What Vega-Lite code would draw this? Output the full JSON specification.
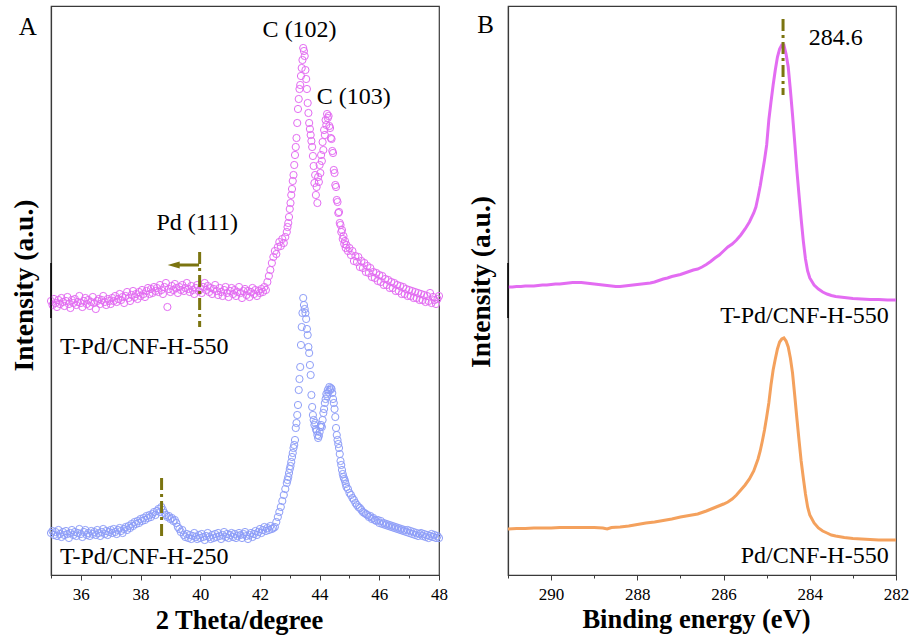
{
"$schema": "https://vega.github.io/schema/vega-lite/v6.json",
"padding": {"left": 9, "top": 5, "right": 0, "bottom": 0},
"background": "white",
"spacing": 69,
"bounds": "flush",
"config": {
 "font": "Liberation Serif, Times New Roman, serif",
 "view": {"stroke": "#3a3a3a", "strokeWidth": 1.2},
 "axis": {"domainColor": "#3a3a3a", "domainWidth": 1.2, "tickColor": "#3a3a3a", "labelFont": "Liberation Serif, Times New Roman, serif", "labelFontSize": 17, "labelColor": "#000", "titleFont": "Liberation Serif, Times New Roman, serif", "titleFontSize": 26.5, "titleFontWeight": "bold", "titleColor": "#000", "grid": false},
 "text": {"font": "Liberation Serif, Times New Roman, serif", "fontSize": 24, "color": "#000"}
},
"datasets": {
 "m550": [
{"x":35,"y":274},{"x":35.05,"y":270},{"x":35.1,"y":276},{"x":35.15,"y":272},{"x":35.2,"y":268},{"x":35.25,"y":275},{"x":35.3,"y":271},{"x":35.35,"y":277},{"x":35.4,"y":273},{"x":35.45,"y":269},{"x":35.5,"y":274},{"x":35.55,"y":278},{"x":35.6,"y":271},{"x":35.65,"y":267},{"x":35.7,"y":275},{"x":35.75,"y":272},{"x":35.8,"y":276},{"x":35.85,"y":270},{"x":35.9,"y":273},{"x":35.95,"y":279},
{"x":36,"y":272},{"x":36.05,"y":268},{"x":36.1,"y":274},{"x":36.15,"y":277},{"x":36.2,"y":271},{"x":36.25,"y":275},{"x":36.3,"y":269},{"x":36.35,"y":273},{"x":36.4,"y":278},{"x":36.45,"y":272},{"x":36.5,"y":266},{"x":36.55,"y":274},{"x":36.6,"y":276},{"x":36.65,"y":271},{"x":36.7,"y":275},{"x":36.75,"y":279},{"x":36.8,"y":273},{"x":36.85,"y":270},{"x":36.9,"y":276},{"x":36.95,"y":274},
{"x":37,"y":271},{"x":37.05,"y":277},{"x":37.1,"y":274},{"x":37.15,"y":279},{"x":37.2,"y":273},{"x":37.25,"y":276},{"x":37.3,"y":281},{"x":37.35,"y":275},{"x":37.4,"y":278},{"x":37.45,"y":272},{"x":37.5,"y":279},{"x":37.55,"y":283},{"x":37.6,"y":277},{"x":37.65,"y":274},{"x":37.7,"y":280},{"x":37.75,"y":284},{"x":37.8,"y":278},{"x":37.85,"y":281},{"x":37.9,"y":276},{"x":37.95,"y":283},
{"x":38,"y":279},{"x":38.05,"y":285},{"x":38.1,"y":281},{"x":38.15,"y":278},{"x":38.2,"y":284},{"x":38.25,"y":287},{"x":38.3,"y":281},{"x":38.35,"y":286},{"x":38.4,"y":282},{"x":38.45,"y":288},{"x":38.5,"y":284},{"x":38.55,"y":287},{"x":38.6,"y":283},{"x":38.65,"y":290},{"x":38.7,"y":285},{"x":38.75,"y":281},{"x":38.8,"y":288},{"x":38.85,"y":292},{"x":38.9,"y":268},{"x":38.95,"y":286},
{"x":39,"y":283},{"x":39.05,"y":289},{"x":39.1,"y":285},{"x":39.15,"y":291},{"x":39.2,"y":287},{"x":39.25,"y":282},{"x":39.3,"y":288},{"x":39.35,"y":285},{"x":39.4,"y":290},{"x":39.45,"y":284},{"x":39.5,"y":287},{"x":39.55,"y":292},{"x":39.6,"y":286},{"x":39.65,"y":283},{"x":39.7,"y":289},{"x":39.75,"y":285},{"x":39.8,"y":281},{"x":39.85,"y":287},{"x":39.9,"y":290},{"x":39.95,"y":284},
{"x":40,"y":286},{"x":40.05,"y":282},{"x":40.1,"y":288},{"x":40.15,"y":292},{"x":40.2,"y":285},{"x":40.25,"y":289},{"x":40.3,"y":283},{"x":40.35,"y":287},{"x":40.4,"y":281},{"x":40.45,"y":286},{"x":40.5,"y":290},{"x":40.55,"y":284},{"x":40.6,"y":280},{"x":40.65,"y":287},{"x":40.7,"y":283},{"x":40.75,"y":279},{"x":40.8,"y":285},{"x":40.85,"y":288},{"x":40.9,"y":282},{"x":40.95,"y":278},
{"x":41,"y":284},{"x":41.05,"y":287},{"x":41.1,"y":281},{"x":41.15,"y":285},{"x":41.2,"y":279},{"x":41.25,"y":283},{"x":41.3,"y":288},{"x":41.35,"y":282},{"x":41.4,"y":277},{"x":41.45,"y":284},{"x":41.5,"y":286},{"x":41.55,"y":280},{"x":41.6,"y":284},{"x":41.65,"y":278},{"x":41.7,"y":283},{"x":41.75,"y":287},{"x":41.8,"y":281},{"x":41.85,"y":285},{"x":41.9,"y":279},{"x":41.95,"y":284},
{"x":42,"y":282},{"x":42.05,"y":286},{"x":42.1,"y":283},{"x":42.15,"y":288},{"x":42.2,"y":285},{"x":42.25,"y":293},{"x":42.3,"y":299},{"x":42.35,"y":305},{"x":42.4,"y":312},{"x":42.45,"y":318},{"x":42.5,"y":324},{"x":42.55,"y":321},{"x":42.6,"y":328},{"x":42.65,"y":333},{"x":42.7,"y":329},{"x":42.75,"y":336},{"x":42.8,"y":332},{"x":42.85,"y":338},{"x":42.9,"y":343},
{"x":42.925,"y":348},{"x":42.95,"y":352},{"x":42.975,"y":358},{"x":43,"y":366},{"x":43.025,"y":372},{"x":43.05,"y":380},{"x":43.075,"y":386},{"x":43.1,"y":394},{"x":43.125,"y":400},{"x":43.15,"y":410},{"x":43.175,"y":420},{"x":43.2,"y":428},{"x":43.225,"y":437},{"x":43.25,"y":452},{"x":43.275,"y":466},{"x":43.3,"y":476},{"x":43.325,"y":486},{"x":43.35,"y":490},{"x":43.375,"y":499},{"x":43.4,"y":507},{"x":43.425,"y":515},{"x":43.45,"y":527},{"x":43.475,"y":524},{"x":43.5,"y":519},{"x":43.525,"y":505},{"x":43.55,"y":496},{"x":43.575,"y":486},{"x":43.6,"y":472},{"x":43.625,"y":462},{"x":43.65,"y":452},{"x":43.675,"y":446},{"x":43.7,"y":440},{"x":43.725,"y":434},{"x":43.75,"y":428},{"x":43.775,"y":419},{"x":43.8,"y":409},{"x":43.825,"y":392},{"x":43.85,"y":400},{"x":43.875,"y":380},{"x":43.9,"y":388},{"x":43.925,"y":372},{"x":43.95,"y":398},{"x":43.975,"y":393},
{"x":44,"y":410},{"x":44.025,"y":402},{"x":44.05,"y":420},{"x":44.075,"y":414},{"x":44.1,"y":433},{"x":44.125,"y":425},{"x":44.15,"y":445},{"x":44.175,"y":440},{"x":44.2,"y":455},{"x":44.225,"y":450},{"x":44.25,"y":461},{"x":44.275,"y":457},{"x":44.3,"y":459},{"x":44.325,"y":449},{"x":44.35,"y":447},{"x":44.375,"y":437},{"x":44.4,"y":436},{"x":44.425,"y":424},{"x":44.45,"y":422},{"x":44.475,"y":405},{"x":44.5,"y":402},{"x":44.525,"y":390},{"x":44.55,"y":388},{"x":44.575,"y":375},{"x":44.6,"y":373},{"x":44.625,"y":362},{"x":44.65,"y":363},{"x":44.675,"y":352},{"x":44.7,"y":350},{"x":44.725,"y":343},{"x":44.75,"y":345},{"x":44.775,"y":336},{"x":44.8,"y":339},{"x":44.825,"y":331},{"x":44.85,"y":334},{"x":44.875,"y":327},{"x":44.9,"y":330},
{"x":44.95,"y":324},{"x":45,"y":327},{"x":45.05,"y":320},{"x":45.1,"y":324},{"x":45.15,"y":314},{"x":45.2,"y":319},{"x":45.25,"y":313},{"x":45.3,"y":318},{"x":45.35,"y":308},{"x":45.4,"y":314},{"x":45.45,"y":307},{"x":45.5,"y":312},{"x":45.55,"y":303},{"x":45.6,"y":309},{"x":45.65,"y":302},{"x":45.7,"y":307},{"x":45.75,"y":298},{"x":45.8,"y":303},{"x":45.85,"y":297},{"x":45.9,"y":302},{"x":45.95,"y":294},
{"x":46,"y":300},{"x":46.05,"y":293},{"x":46.1,"y":299},{"x":46.15,"y":290},{"x":46.2,"y":296},{"x":46.25,"y":290},{"x":46.3,"y":295},{"x":46.35,"y":287},{"x":46.4,"y":293},{"x":46.45,"y":287},{"x":46.5,"y":292},{"x":46.55,"y":284},{"x":46.6,"y":290},{"x":46.65,"y":284},{"x":46.7,"y":289},{"x":46.75,"y":281},{"x":46.8,"y":288},{"x":46.85,"y":281},{"x":46.9,"y":286},{"x":46.95,"y":279},
{"x":47,"y":285},{"x":47.05,"y":279},{"x":47.1,"y":284},{"x":47.15,"y":277},{"x":47.2,"y":283},{"x":47.25,"y":277},{"x":47.3,"y":282},{"x":47.35,"y":275},{"x":47.4,"y":281},{"x":47.45,"y":275},{"x":47.5,"y":280},{"x":47.55,"y":273},{"x":47.6,"y":279},{"x":47.65,"y":274},{"x":47.7,"y":282},{"x":47.75,"y":272},{"x":47.8,"y":278},{"x":47.85,"y":275},{"x":47.9,"y":271},{"x":47.95,"y":276},{"x":48,"y":279}
 ],
 "b250": [
{"x":35,"y":42},{"x":35.05,"y":44},{"x":35.1,"y":40},{"x":35.15,"y":43},{"x":35.2,"y":39},{"x":35.25,"y":45},{"x":35.3,"y":41},{"x":35.35,"y":38},{"x":35.4,"y":43},{"x":35.45,"y":40},{"x":35.5,"y":44},{"x":35.55,"y":41},{"x":35.6,"y":37},{"x":35.65,"y":42},{"x":35.7,"y":45},{"x":35.75,"y":40},{"x":35.8,"y":43},{"x":35.85,"y":39},{"x":35.9,"y":42},{"x":35.95,"y":46},
{"x":36,"y":41},{"x":36.05,"y":38},{"x":36.1,"y":43},{"x":36.15,"y":45},{"x":36.2,"y":40},{"x":36.25,"y":42},{"x":36.3,"y":39},{"x":36.35,"y":44},{"x":36.4,"y":41},{"x":36.45,"y":43},{"x":36.5,"y":40},{"x":36.55,"y":45},{"x":36.6,"y":42},{"x":36.65,"y":39},{"x":36.7,"y":43},{"x":36.75,"y":46},{"x":36.8,"y":41},{"x":36.85,"y":44},{"x":36.9,"y":40},{"x":36.95,"y":43},
{"x":37,"y":45},{"x":37.05,"y":42},{"x":37.1,"y":46},{"x":37.15,"y":43},{"x":37.2,"y":41},{"x":37.25,"y":45},{"x":37.3,"y":47},{"x":37.35,"y":44},{"x":37.4,"y":42},{"x":37.45,"y":46},{"x":37.5,"y":48},{"x":37.55,"y":45},{"x":37.6,"y":49},{"x":37.65,"y":47},{"x":37.7,"y":51},{"x":37.75,"y":49},{"x":37.8,"y":53},{"x":37.85,"y":51},{"x":37.9,"y":54},{"x":37.95,"y":52},
{"x":38,"y":56},{"x":38.05,"y":54},{"x":38.1,"y":57},{"x":38.15,"y":55},{"x":38.2,"y":59},{"x":38.25,"y":57},{"x":38.3,"y":60},{"x":38.35,"y":58},{"x":38.4,"y":61},{"x":38.45,"y":63},{"x":38.5,"y":60},{"x":38.55,"y":64},{"x":38.6,"y":66},{"x":38.65,"y":63},{"x":38.7,"y":68},{"x":38.75,"y":65},{"x":38.8,"y":62},{"x":38.85,"y":60},{"x":38.9,"y":58},{"x":38.95,"y":59},
{"x":39,"y":56},{"x":39.05,"y":57},{"x":39.1,"y":54},{"x":39.15,"y":55},{"x":39.2,"y":52},{"x":39.25,"y":48},{"x":39.3,"y":46},{"x":39.35,"y":43},{"x":39.4,"y":45},{"x":39.45,"y":40},{"x":39.5,"y":38},{"x":39.55,"y":41},{"x":39.6,"y":37},{"x":39.65,"y":40},{"x":39.7,"y":36},{"x":39.75,"y":39},{"x":39.8,"y":42},{"x":39.85,"y":38},{"x":39.9,"y":36},{"x":39.95,"y":40},
{"x":40,"y":37},{"x":40.05,"y":41},{"x":40.1,"y":38},{"x":40.15,"y":35},{"x":40.2,"y":39},{"x":40.25,"y":42},{"x":40.3,"y":38},{"x":40.35,"y":36},{"x":40.4,"y":40},{"x":40.45,"y":37},{"x":40.5,"y":41},{"x":40.55,"y":38},{"x":40.6,"y":42},{"x":40.65,"y":39},{"x":40.7,"y":36},{"x":40.75,"y":40},{"x":40.8,"y":43},{"x":40.85,"y":38},{"x":40.9,"y":41},{"x":40.95,"y":37},
{"x":41,"y":40},{"x":41.05,"y":42},{"x":41.1,"y":38},{"x":41.15,"y":41},{"x":41.2,"y":37},{"x":41.25,"y":39},{"x":41.3,"y":42},{"x":41.35,"y":40},{"x":41.4,"y":37},{"x":41.45,"y":41},{"x":41.5,"y":43},{"x":41.55,"y":39},{"x":41.6,"y":36},{"x":41.65,"y":40},{"x":41.7,"y":42},{"x":41.75,"y":38},{"x":41.8,"y":41},{"x":41.85,"y":44},{"x":41.9,"y":40},{"x":41.95,"y":43},
{"x":42,"y":46},{"x":42.05,"y":42},{"x":42.1,"y":45},{"x":42.15,"y":48},{"x":42.2,"y":44},{"x":42.25,"y":47},{"x":42.3,"y":45},{"x":42.35,"y":49},{"x":42.4,"y":46},{"x":42.45,"y":47},{"x":42.5,"y":48},{"x":42.55,"y":53},{"x":42.6,"y":58},{"x":42.65,"y":63},{"x":42.7,"y":68},{"x":42.75,"y":74},{"x":42.8,"y":80},{"x":42.85,"y":86},{"x":42.9,"y":92},
{"x":42.925,"y":95},{"x":42.95,"y":98},{"x":42.975,"y":102},{"x":43,"y":106},{"x":43.025,"y":109},{"x":43.05,"y":113},{"x":43.075,"y":118},{"x":43.1,"y":122},{"x":43.125,"y":127},{"x":43.15,"y":130},{"x":43.175,"y":135},{"x":43.2,"y":147},{"x":43.225,"y":152},{"x":43.25,"y":160},{"x":43.275,"y":170},{"x":43.3,"y":185},{"x":43.325,"y":196},{"x":43.35,"y":208},{"x":43.375,"y":230},{"x":43.4,"y":248},{"x":43.425,"y":262},{"x":43.45,"y":277},{"x":43.475,"y":270},{"x":43.5,"y":266},{"x":43.525,"y":262},{"x":43.55,"y":256},{"x":43.575,"y":246},{"x":43.6,"y":240},{"x":43.625,"y":228},{"x":43.65,"y":222},{"x":43.675,"y":210},{"x":43.7,"y":200},{"x":43.725,"y":180},{"x":43.75,"y":168},{"x":43.775,"y":160},{"x":43.8,"y":155},{"x":43.825,"y":150},{"x":43.85,"y":152},{"x":43.875,"y":146},{"x":43.9,"y":144},{"x":43.925,"y":140},{"x":43.95,"y":137},{"x":43.975,"y":139},
{"x":44,"y":143},{"x":44.025,"y":148},{"x":44.05,"y":150},{"x":44.075,"y":148},{"x":44.1,"y":155},{"x":44.125,"y":162},{"x":44.15,"y":166},{"x":44.175,"y":172},{"x":44.2,"y":176},{"x":44.225,"y":181},{"x":44.25,"y":179},{"x":44.275,"y":185},{"x":44.3,"y":183},{"x":44.325,"y":188},{"x":44.35,"y":185},{"x":44.375,"y":187},{"x":44.4,"y":186},{"x":44.425,"y":182},{"x":44.45,"y":176},{"x":44.475,"y":172},{"x":44.5,"y":166},{"x":44.525,"y":158},{"x":44.55,"y":147},{"x":44.575,"y":140},{"x":44.6,"y":135},{"x":44.625,"y":131},{"x":44.65,"y":127},{"x":44.675,"y":121},{"x":44.7,"y":114},{"x":44.725,"y":110},{"x":44.75,"y":105},{"x":44.775,"y":101},{"x":44.8,"y":98},{"x":44.825,"y":96},{"x":44.85,"y":94},{"x":44.875,"y":91},{"x":44.9,"y":88},
{"x":44.95,"y":86},{"x":45,"y":82},{"x":45.05,"y":80},{"x":45.1,"y":77},{"x":45.15,"y":75},{"x":45.2,"y":72},{"x":45.25,"y":70},{"x":45.3,"y":68},{"x":45.35,"y":67},{"x":45.4,"y":65},{"x":45.45,"y":63},{"x":45.5,"y":62},{"x":45.55,"y":61},{"x":45.6,"y":60},{"x":45.65,"y":58},{"x":45.7,"y":59},{"x":45.75,"y":56},{"x":45.8,"y":57},{"x":45.85,"y":55},{"x":45.9,"y":54},{"x":45.95,"y":55},
{"x":46,"y":52},{"x":46.05,"y":54},{"x":46.1,"y":51},{"x":46.15,"y":52},{"x":46.2,"y":50},{"x":46.25,"y":51},{"x":46.3,"y":49},{"x":46.35,"y":50},{"x":46.4,"y":48},{"x":46.45,"y":49},{"x":46.5,"y":47},{"x":46.55,"y":48},{"x":46.6,"y":46},{"x":46.65,"y":47},{"x":46.7,"y":45},{"x":46.75,"y":46},{"x":46.8,"y":44},{"x":46.85,"y":45},{"x":46.9,"y":43},{"x":46.95,"y":45},
{"x":47,"y":42},{"x":47.05,"y":44},{"x":47.1,"y":41},{"x":47.15,"y":43},{"x":47.2,"y":40},{"x":47.25,"y":42},{"x":47.3,"y":39},{"x":47.35,"y":41},{"x":47.4,"y":42},{"x":47.45,"y":39},{"x":47.5,"y":41},{"x":47.55,"y":38},{"x":47.6,"y":40},{"x":47.65,"y":37},{"x":47.7,"y":39},{"x":47.75,"y":41},{"x":47.8,"y":38},{"x":47.85,"y":40},{"x":47.9,"y":37},{"x":47.95,"y":39},{"x":48,"y":37}
 ],
 "xpsT": [
{"x":291,"y":288},{"x":290.9,"y":288},{"x":290.8,"y":288.5},{"x":290.7,"y":288.5},{"x":290.6,"y":289},{"x":290.5,"y":289},{"x":290.4,"y":289},{"x":290.3,"y":289.5},{"x":290.2,"y":290},{"x":290.1,"y":290},{"x":290,"y":290.5},{"x":289.9,"y":291},{"x":289.8,"y":291},{"x":289.7,"y":291.5},{"x":289.6,"y":292},{"x":289.5,"y":292.5},{"x":289.4,"y":292.5},{"x":289.3,"y":292.5},{"x":289.2,"y":292},{"x":289.1,"y":291.5},{"x":289,"y":291},{"x":288.9,"y":290.5},{"x":288.8,"y":290},{"x":288.7,"y":289.5},{"x":288.6,"y":289},{"x":288.5,"y":288.5},{"x":288.4,"y":288.5},{"x":288.3,"y":289},{"x":288.2,"y":289.5},{"x":288.1,"y":290},{"x":288,"y":290.5},{"x":287.9,"y":291},{"x":287.8,"y":291.5},{"x":287.7,"y":292},{"x":287.6,"y":293},{"x":287.5,"y":294.5},{"x":287.4,"y":296},{"x":287.3,"y":297},{"x":287.2,"y":298.5},{"x":287.1,"y":299.5},{"x":287,"y":300.5},{"x":286.9,"y":302},{"x":286.8,"y":303.5},{"x":286.7,"y":305},{"x":286.6,"y":306},{"x":286.5,"y":308},{"x":286.4,"y":310.5},{"x":286.3,"y":313.5},{"x":286.2,"y":317},{"x":286.1,"y":320},{"x":286,"y":324},{"x":285.9,"y":328},{"x":285.8,"y":331},{"x":285.7,"y":335},{"x":285.6,"y":340},{"x":285.5,"y":346},{"x":285.4,"y":353},{"x":285.3,"y":362},{"x":285.25,"y":368},{"x":285.2,"y":378},{"x":285.15,"y":389},{"x":285.1,"y":402},{"x":285.05,"y":415},{"x":285,"y":430},{"x":284.95,"y":455},{"x":284.9,"y":473},{"x":284.85,"y":490},{"x":284.8,"y":505},{"x":284.75,"y":518},{"x":284.7,"y":526},{"x":284.65,"y":530},{"x":284.6,"y":530},{"x":284.55,"y":521},{"x":284.5,"y":508},{"x":284.45,"y":485},{"x":284.4,"y":460},{"x":284.35,"y":433},{"x":284.3,"y":405},{"x":284.25,"y":380},{"x":284.2,"y":356},{"x":284.15,"y":334},{"x":284.1,"y":316},{"x":284.05,"y":304},{"x":284,"y":297},{"x":283.9,"y":290},{"x":283.8,"y":286},{"x":283.7,"y":283},{"x":283.6,"y":281},{"x":283.5,"y":279.5},{"x":283.4,"y":278.5},{"x":283.3,"y":278},{"x":283.2,"y":277.5},{"x":283,"y":276.5},{"x":282.8,"y":276},{"x":282.6,"y":275.5},{"x":282.4,"y":275.5},{"x":282.2,"y":275},{"x":282,"y":275}
 ],
 "xpsP": [
{"x":291,"y":46},{"x":290.8,"y":46.5},{"x":290.6,"y":46.5},{"x":290.4,"y":47},{"x":290.2,"y":47},{"x":290,"y":47},{"x":289.8,"y":47.5},{"x":289.6,"y":47.5},{"x":289.4,"y":47.5},{"x":289.2,"y":47.5},{"x":289,"y":47.5},{"x":288.8,"y":47},{"x":288.7,"y":46},{"x":288.6,"y":47.5},{"x":288.4,"y":48},{"x":288.2,"y":49},{"x":288,"y":50.5},{"x":287.8,"y":52},{"x":287.6,"y":53},{"x":287.4,"y":54.5},{"x":287.2,"y":56},{"x":287,"y":58},{"x":286.8,"y":59.5},{"x":286.6,"y":61},{"x":286.4,"y":64},{"x":286.2,"y":67.5},{"x":286,"y":71},{"x":285.9,"y":73},{"x":285.8,"y":76},{"x":285.7,"y":80},{"x":285.6,"y":85},{"x":285.5,"y":90},{"x":285.4,"y":96},{"x":285.3,"y":104},{"x":285.2,"y":116},{"x":285.15,"y":124},{"x":285.1,"y":134},{"x":285.05,"y":145},{"x":285,"y":158},{"x":284.95,"y":172},{"x":284.9,"y":190},{"x":284.85,"y":205},{"x":284.8,"y":216},{"x":284.75,"y":226},{"x":284.7,"y":233},{"x":284.65,"y":236},{"x":284.6,"y":237},{"x":284.55,"y":234},{"x":284.5,"y":228},{"x":284.45,"y":217},{"x":284.4,"y":202},{"x":284.35,"y":180},{"x":284.3,"y":157},{"x":284.25,"y":135},{"x":284.2,"y":114},{"x":284.15,"y":97},{"x":284.1,"y":81},{"x":284.05,"y":68},{"x":284,"y":60},{"x":283.9,"y":52},{"x":283.8,"y":47},{"x":283.7,"y":44},{"x":283.6,"y":42},{"x":283.5,"y":40},{"x":283.4,"y":39},{"x":283.2,"y":37.5},{"x":283,"y":36.5},{"x":282.8,"y":36},{"x":282.6,"y":35.5},{"x":282.4,"y":35},{"x":282.2,"y":35},{"x":282,"y":35}
 ]
},
"hconcat": [
 {
  "width": 388, "height": 569,
  "encoding": {
   "x": {"field": "x", "type": "quantitative", "scale": {"domain": [35, 48], "nice": false, "zero": false},
     "axis": {"values": [35,36,37,38,39,40,41,42,43,44,45,46,47,48], "labelExpr": "datum.value % 2 === 0 ? datum.label : ''", "tickSize": {"condition": {"test": "datum.value % 2 === 0", "value": 5}, "value": 3}, "labelPadding": 6, "labelFlush": false, "title": "2 Theta/degree", "titleX": 188, "titleY": 53, "titleBaseline": "alphabetic"}},
   "y": {"field": "y", "type": "quantitative", "scale": {"domain": [0, 569], "nice": false, "zero": false},
     "axis": {"ticks": false, "labels": false, "title": "Intensity (a.u.)", "titleFontSize": 27.5, "titleX": -19, "titleY": 279, "titleBaseline": "alphabetic", "titleAngle": 270}}
  },
  "layer": [
   {"data": {"name": "b250"}, "mark": {"type": "point", "shape": "circle", "filled": false, "size": 52, "strokeWidth": 1, "opacity": 1, "color": "#8E9EF8"}},
   {"data": {"name": "m550"}, "mark": {"type": "point", "shape": "circle", "filled": false, "size": 52, "strokeWidth": 1, "opacity": 1, "color": "#E36CF2"}},
   {"data": {"values": [{"x": 39.98, "y": 323, "y2": 248}, {"x": 38.705, "y": 97, "y2": 38}]},
    "mark": {"type": "rule", "color": "#7B7410", "strokeWidth": 3, "strokeDash": [12, 4, 3, 4]},
    "encoding": {"y2": {"field": "y2"}}},
   {"data": {"values": [{"x": 39.2, "x2": 39.96, "y": 310}]},
    "mark": {"type": "rule", "color": "#7B7410", "strokeWidth": 3},
    "encoding": {"x2": {"field": "x2"}}},
   {"data": {"values": [{"x": 39.11, "y": 310}]},
    "mark": {"type": "point", "shape": "M-1,0L1,-0.6L1,0.6Z", "filled": true, "size": 144, "opacity": 1, "color": "#7B7410"}},
   {"data": {"values": [{"x": 35, "y": 257, "y2": 312}]},
    "mark": {"type": "rule", "color": "#000", "strokeWidth": 1.5},
    "encoding": {"y2": {"field": "y2"}}},
   {"data": {"values": [
      {"x": 43.33, "y": 545, "t": "C (102)"},
      {"x": 45.14, "y": 478, "t": "C (103)"},
      {"x": 39.9, "y": 352, "t": "Pd (111)"}]},
    "mark": {"type": "text", "align": "center", "baseline": "middle", "fontSize": 24},
    "encoding": {"text": {"field": "t"}}},
   {"data": {"values": [
      {"x": 35.3, "y": 228, "t": "T-Pd/CNF-H-550"},
      {"x": 35.3, "y": 18, "t": "T-Pd/CNF-H-250"}]},
    "mark": {"type": "text", "align": "left", "baseline": "middle", "fontSize": 24},
    "encoding": {"text": {"field": "t"}}},
   {"data": {"values": [{"x": 34.22, "y": 548, "t": "A"}]},
    "mark": {"type": "text", "align": "center", "baseline": "middle", "fontSize": 25},
    "encoding": {"text": {"field": "t"}}}
  ]
 },
 {
  "width": 388, "height": 569,
  "encoding": {
   "x": {"field": "x", "type": "quantitative", "scale": {"domain": [282, 291], "reverse": true, "nice": false, "zero": false},
     "axis": {"values": [282,283,284,285,286,287,288,289,290,291], "labelExpr": "datum.value % 2 === 0 ? datum.label : ''", "tickSize": {"condition": {"test": "datum.value % 2 === 0", "value": 5}, "value": 3}, "labelPadding": 6, "labelFlush": false, "title": "Binding energy (eV)", "titleX": 188, "titleY": 52, "titleBaseline": "alphabetic"}},
   "y": {"field": "y", "type": "quantitative", "scale": {"domain": [0, 569], "nice": false, "zero": false},
     "axis": {"ticks": false, "labels": false, "title": "Intensity (a.u.)", "titleFontSize": 27.5, "titleX": -19, "titleY": 275.5, "titleBaseline": "alphabetic", "titleAngle": 270}}
  },
  "layer": [
   {"data": {"name": "xpsT"}, "mark": {"type": "line", "color": "#E36CF2", "strokeWidth": 3}},
   {"data": {"name": "xpsP"}, "mark": {"type": "line", "color": "#F4A15D", "strokeWidth": 3}},
   {"data": {"values": [{"x": 284.62, "y": 556, "y2": 480}]},
    "mark": {"type": "rule", "color": "#7B7410", "strokeWidth": 3, "strokeDash": [12, 4, 3, 4]},
    "encoding": {"y2": {"field": "y2"}}},
   {"data": {"values": [{"x": 291, "y": 257, "y2": 312}]},
    "mark": {"type": "rule", "color": "#000", "strokeWidth": 1.5},
    "encoding": {"y2": {"field": "y2"}}},
   {"data": {"values": [{"x": 283.4, "y": 537, "t": "284.6"}]},
    "mark": {"type": "text", "align": "center", "baseline": "middle", "fontSize": 24},
    "encoding": {"text": {"field": "t"}}},
   {"data": {"values": [
      {"x": 282.17, "y": 259, "t": "T-Pd/CNF-H-550"},
      {"x": 282.17, "y": 19, "t": "Pd/CNF-H-550"}]},
    "mark": {"type": "text", "align": "right", "baseline": "middle", "fontSize": 24},
    "encoding": {"text": {"field": "t"}}},
   {"data": {"values": [{"x": 291.52, "y": 550, "t": "B"}]},
    "mark": {"type": "text", "align": "center", "baseline": "middle", "fontSize": 25},
    "encoding": {"text": {"field": "t"}}}
  ]
 }
]
}
